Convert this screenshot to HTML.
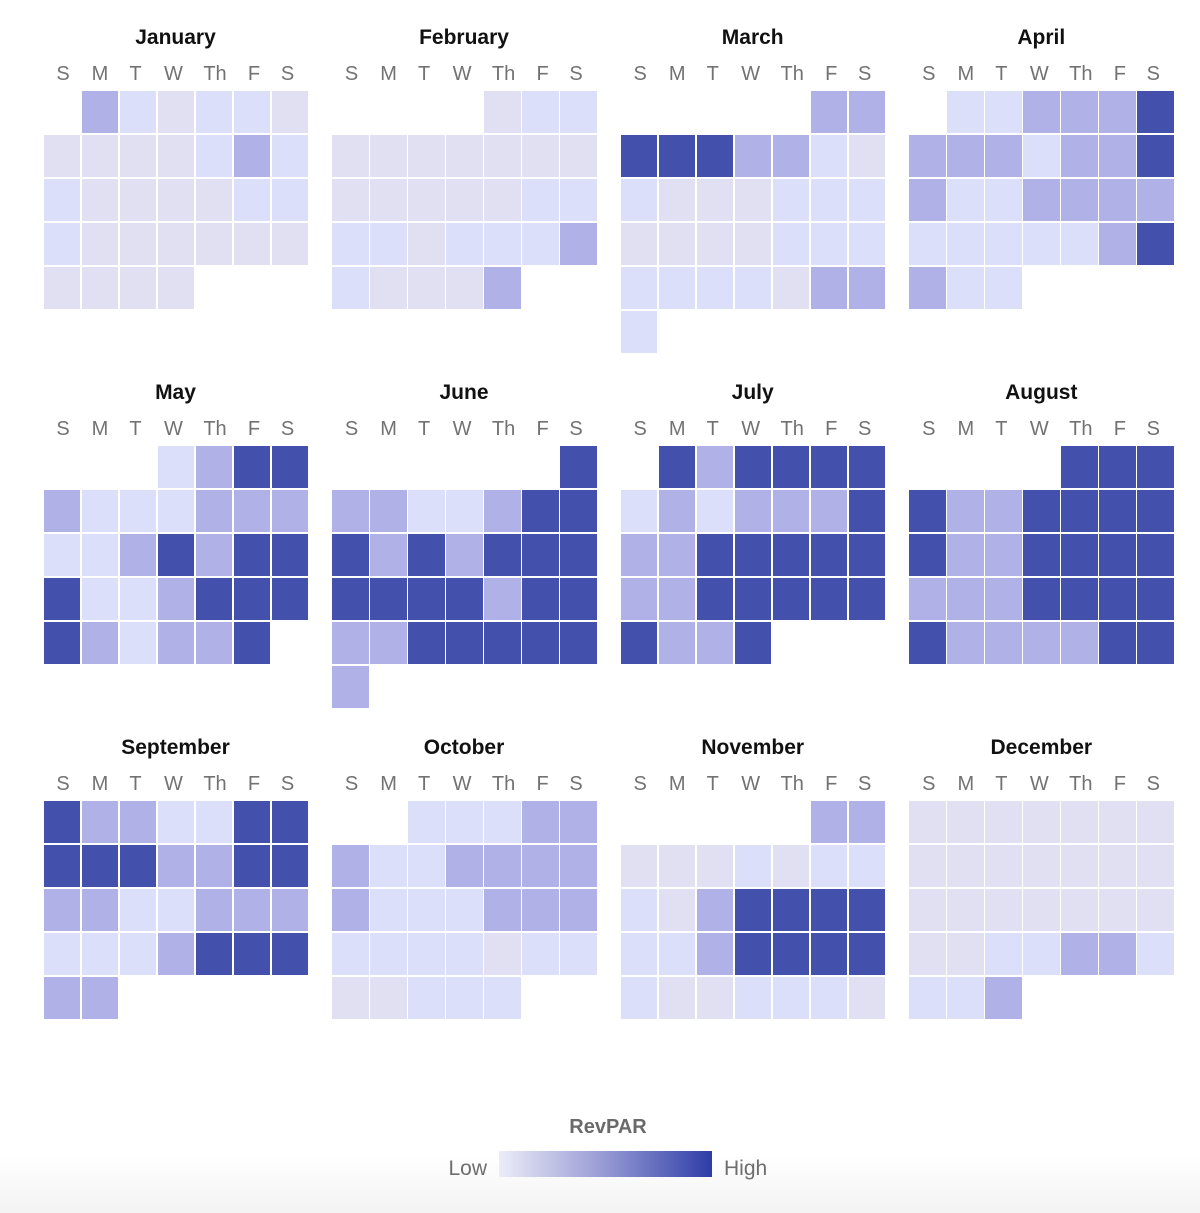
<!DOCTYPE html>
<html><head><meta charset="utf-8">
<style>
html,body{margin:0;padding:0;background:#fff;}
body{width:1200px;height:1213px;position:relative;overflow:hidden;font-family:"Liberation Sans",sans-serif;}
.bg{position:absolute;left:0;top:1155px;width:1200px;height:58px;background:linear-gradient(#ffffff,#f3f3f3);}
.mo{position:absolute;display:grid;grid-template-columns:repeat(7,36.5px);column-gap:1.5px;grid-auto-rows:42px;row-gap:2px;}
.mo i{display:block;}
.g{background:#e0e0f2;}
.l{background:#dcdff9;}
.m{background:#b0b2e7;}
.d{background:#4350ac;}
.e{background:transparent;}
svg{position:absolute;left:0;top:0;}
.t{font:bold 21px "Liberation Sans",sans-serif;fill:#111;text-anchor:middle;}
.w{font:20px "Liberation Sans",sans-serif;fill:#727272;text-anchor:middle;}
</style></head><body>
<div class="bg"></div>

<!-- Row 1 -->
<div class="mo" style="left:43.5px;top:91px">
<i class="e"></i><i class="m"></i><i class="l"></i><i class="g"></i><i class="l"></i><i class="l"></i><i class="g"></i>
<i class="g"></i><i class="g"></i><i class="g"></i><i class="g"></i><i class="l"></i><i class="m"></i><i class="l"></i>
<i class="l"></i><i class="g"></i><i class="g"></i><i class="g"></i><i class="g"></i><i class="l"></i><i class="l"></i>
<i class="l"></i><i class="g"></i><i class="g"></i><i class="g"></i><i class="g"></i><i class="g"></i><i class="g"></i>
<i class="g"></i><i class="g"></i><i class="g"></i><i class="g"></i>
</div>
<div class="mo" style="left:332.1px;top:91px">
<i class="e"></i><i class="e"></i><i class="e"></i><i class="e"></i><i class="g"></i><i class="l"></i><i class="l"></i>
<i class="g"></i><i class="g"></i><i class="g"></i><i class="g"></i><i class="g"></i><i class="g"></i><i class="g"></i>
<i class="g"></i><i class="g"></i><i class="g"></i><i class="g"></i><i class="g"></i><i class="l"></i><i class="l"></i>
<i class="l"></i><i class="l"></i><i class="g"></i><i class="l"></i><i class="l"></i><i class="l"></i><i class="m"></i>
<i class="l"></i><i class="g"></i><i class="g"></i><i class="g"></i><i class="m"></i>
</div>
<div class="mo" style="left:620.7px;top:91px">
<i class="e"></i><i class="e"></i><i class="e"></i><i class="e"></i><i class="e"></i><i class="m"></i><i class="m"></i>
<i class="d"></i><i class="d"></i><i class="d"></i><i class="m"></i><i class="m"></i><i class="l"></i><i class="g"></i>
<i class="l"></i><i class="g"></i><i class="g"></i><i class="g"></i><i class="l"></i><i class="l"></i><i class="l"></i>
<i class="g"></i><i class="g"></i><i class="g"></i><i class="g"></i><i class="l"></i><i class="l"></i><i class="l"></i>
<i class="l"></i><i class="l"></i><i class="l"></i><i class="l"></i><i class="g"></i><i class="m"></i><i class="m"></i>
<i class="l"></i>
</div>
<div class="mo" style="left:909.3px;top:91px">
<i class="e"></i><i class="l"></i><i class="l"></i><i class="m"></i><i class="m"></i><i class="m"></i><i class="d"></i>
<i class="m"></i><i class="m"></i><i class="m"></i><i class="l"></i><i class="m"></i><i class="m"></i><i class="d"></i>
<i class="m"></i><i class="l"></i><i class="l"></i><i class="m"></i><i class="m"></i><i class="m"></i><i class="m"></i>
<i class="l"></i><i class="l"></i><i class="l"></i><i class="l"></i><i class="l"></i><i class="m"></i><i class="d"></i>
<i class="m"></i><i class="l"></i><i class="l"></i>
</div>

<!-- Row 2 -->
<div class="mo" style="left:43.5px;top:446px">
<i class="e"></i><i class="e"></i><i class="e"></i><i class="l"></i><i class="m"></i><i class="d"></i><i class="d"></i>
<i class="m"></i><i class="l"></i><i class="l"></i><i class="l"></i><i class="m"></i><i class="m"></i><i class="m"></i>
<i class="l"></i><i class="l"></i><i class="m"></i><i class="d"></i><i class="m"></i><i class="d"></i><i class="d"></i>
<i class="d"></i><i class="l"></i><i class="l"></i><i class="m"></i><i class="d"></i><i class="d"></i><i class="d"></i>
<i class="d"></i><i class="m"></i><i class="l"></i><i class="m"></i><i class="m"></i><i class="d"></i>
</div>
<div class="mo" style="left:332.1px;top:446px">
<i class="e"></i><i class="e"></i><i class="e"></i><i class="e"></i><i class="e"></i><i class="e"></i><i class="d"></i>
<i class="m"></i><i class="m"></i><i class="l"></i><i class="l"></i><i class="m"></i><i class="d"></i><i class="d"></i>
<i class="d"></i><i class="m"></i><i class="d"></i><i class="m"></i><i class="d"></i><i class="d"></i><i class="d"></i>
<i class="d"></i><i class="d"></i><i class="d"></i><i class="d"></i><i class="m"></i><i class="d"></i><i class="d"></i>
<i class="m"></i><i class="m"></i><i class="d"></i><i class="d"></i><i class="d"></i><i class="d"></i><i class="d"></i>
<i class="m"></i>
</div>
<div class="mo" style="left:620.7px;top:446px">
<i class="e"></i><i class="d"></i><i class="m"></i><i class="d"></i><i class="d"></i><i class="d"></i><i class="d"></i>
<i class="l"></i><i class="m"></i><i class="l"></i><i class="m"></i><i class="m"></i><i class="m"></i><i class="d"></i>
<i class="m"></i><i class="m"></i><i class="d"></i><i class="d"></i><i class="d"></i><i class="d"></i><i class="d"></i>
<i class="m"></i><i class="m"></i><i class="d"></i><i class="d"></i><i class="d"></i><i class="d"></i><i class="d"></i>
<i class="d"></i><i class="m"></i><i class="m"></i><i class="d"></i>
</div>
<div class="mo" style="left:909.3px;top:446px">
<i class="e"></i><i class="e"></i><i class="e"></i><i class="e"></i><i class="d"></i><i class="d"></i><i class="d"></i>
<i class="d"></i><i class="m"></i><i class="m"></i><i class="d"></i><i class="d"></i><i class="d"></i><i class="d"></i>
<i class="d"></i><i class="m"></i><i class="m"></i><i class="d"></i><i class="d"></i><i class="d"></i><i class="d"></i>
<i class="m"></i><i class="m"></i><i class="m"></i><i class="d"></i><i class="d"></i><i class="d"></i><i class="d"></i>
<i class="d"></i><i class="m"></i><i class="m"></i><i class="m"></i><i class="m"></i><i class="d"></i><i class="d"></i>
</div>

<!-- Row 3 -->
<div class="mo" style="left:43.5px;top:801px">
<i class="d"></i><i class="m"></i><i class="m"></i><i class="l"></i><i class="l"></i><i class="d"></i><i class="d"></i>
<i class="d"></i><i class="d"></i><i class="d"></i><i class="m"></i><i class="m"></i><i class="d"></i><i class="d"></i>
<i class="m"></i><i class="m"></i><i class="l"></i><i class="l"></i><i class="m"></i><i class="m"></i><i class="m"></i>
<i class="l"></i><i class="l"></i><i class="l"></i><i class="m"></i><i class="d"></i><i class="d"></i><i class="d"></i>
<i class="m"></i><i class="m"></i>
</div>
<div class="mo" style="left:332.1px;top:801px">
<i class="e"></i><i class="e"></i><i class="l"></i><i class="l"></i><i class="l"></i><i class="m"></i><i class="m"></i>
<i class="m"></i><i class="l"></i><i class="l"></i><i class="m"></i><i class="m"></i><i class="m"></i><i class="m"></i>
<i class="m"></i><i class="l"></i><i class="l"></i><i class="l"></i><i class="m"></i><i class="m"></i><i class="m"></i>
<i class="l"></i><i class="l"></i><i class="l"></i><i class="l"></i><i class="g"></i><i class="l"></i><i class="l"></i>
<i class="g"></i><i class="g"></i><i class="l"></i><i class="l"></i><i class="l"></i>
</div>
<div class="mo" style="left:620.7px;top:801px">
<i class="e"></i><i class="e"></i><i class="e"></i><i class="e"></i><i class="e"></i><i class="m"></i><i class="m"></i>
<i class="g"></i><i class="g"></i><i class="g"></i><i class="l"></i><i class="g"></i><i class="l"></i><i class="l"></i>
<i class="l"></i><i class="g"></i><i class="m"></i><i class="d"></i><i class="d"></i><i class="d"></i><i class="d"></i>
<i class="l"></i><i class="l"></i><i class="m"></i><i class="d"></i><i class="d"></i><i class="d"></i><i class="d"></i>
<i class="l"></i><i class="g"></i><i class="g"></i><i class="l"></i><i class="l"></i><i class="l"></i><i class="g"></i>
</div>
<div class="mo" style="left:909.3px;top:801px">
<i class="g"></i><i class="g"></i><i class="g"></i><i class="g"></i><i class="g"></i><i class="g"></i><i class="g"></i>
<i class="g"></i><i class="g"></i><i class="g"></i><i class="g"></i><i class="g"></i><i class="g"></i><i class="g"></i>
<i class="g"></i><i class="g"></i><i class="g"></i><i class="g"></i><i class="g"></i><i class="g"></i><i class="g"></i>
<i class="g"></i><i class="g"></i><i class="l"></i><i class="l"></i><i class="m"></i><i class="m"></i><i class="l"></i>
<i class="l"></i><i class="l"></i><i class="m"></i>
</div>

<svg width="1200" height="1213" viewBox="0 0 1200 1213">
<defs>
<linearGradient id="lg" x1="0" y1="0" x2="1" y2="0">
<stop offset="0" stop-color="#ececf8"/>
<stop offset="0.5" stop-color="#9599d3"/>
<stop offset="1" stop-color="#2e3da7"/>
</linearGradient>
</defs>
<!-- titles -->
<text class="t" x="175.5" y="44">January</text>
<text class="t" x="464" y="44">February</text>
<text class="t" x="752.7" y="44">March</text>
<text class="t" x="1041.3" y="44">April</text>
<text class="t" x="175.5" y="399">May</text>
<text class="t" x="464" y="399">June</text>
<text class="t" x="752.7" y="399">July</text>
<text class="t" x="1041.3" y="399">August</text>
<text class="t" x="175.5" y="754">September</text>
<text class="t" x="464" y="754">October</text>
<text class="t" x="752.7" y="754">November</text>
<text class="t" x="1041.3" y="754">December</text>

<!-- day labels row 1 -->
<g transform="translate(43.5,80)"><text class="w" x="19.5">S</text><text class="w" x="56.5">M</text><text class="w" x="92">T</text><text class="w" x="130">W</text><text class="w" x="171.5">Th</text><text class="w" x="210.5">F</text><text class="w" x="244">S</text></g>
<g transform="translate(332.1,80)"><text class="w" x="19.5">S</text><text class="w" x="56.5">M</text><text class="w" x="92">T</text><text class="w" x="130">W</text><text class="w" x="171.5">Th</text><text class="w" x="210.5">F</text><text class="w" x="244">S</text></g>
<g transform="translate(620.7,80)"><text class="w" x="19.5">S</text><text class="w" x="56.5">M</text><text class="w" x="92">T</text><text class="w" x="130">W</text><text class="w" x="171.5">Th</text><text class="w" x="210.5">F</text><text class="w" x="244">S</text></g>
<g transform="translate(909.3,80)"><text class="w" x="19.5">S</text><text class="w" x="56.5">M</text><text class="w" x="92">T</text><text class="w" x="130">W</text><text class="w" x="171.5">Th</text><text class="w" x="210.5">F</text><text class="w" x="244">S</text></g>
<!-- row 2 -->
<g transform="translate(43.5,435)"><text class="w" x="19.5">S</text><text class="w" x="56.5">M</text><text class="w" x="92">T</text><text class="w" x="130">W</text><text class="w" x="171.5">Th</text><text class="w" x="210.5">F</text><text class="w" x="244">S</text></g>
<g transform="translate(332.1,435)"><text class="w" x="19.5">S</text><text class="w" x="56.5">M</text><text class="w" x="92">T</text><text class="w" x="130">W</text><text class="w" x="171.5">Th</text><text class="w" x="210.5">F</text><text class="w" x="244">S</text></g>
<g transform="translate(620.7,435)"><text class="w" x="19.5">S</text><text class="w" x="56.5">M</text><text class="w" x="92">T</text><text class="w" x="130">W</text><text class="w" x="171.5">Th</text><text class="w" x="210.5">F</text><text class="w" x="244">S</text></g>
<g transform="translate(909.3,435)"><text class="w" x="19.5">S</text><text class="w" x="56.5">M</text><text class="w" x="92">T</text><text class="w" x="130">W</text><text class="w" x="171.5">Th</text><text class="w" x="210.5">F</text><text class="w" x="244">S</text></g>
<!-- row 3 -->
<g transform="translate(43.5,790)"><text class="w" x="19.5">S</text><text class="w" x="56.5">M</text><text class="w" x="92">T</text><text class="w" x="130">W</text><text class="w" x="171.5">Th</text><text class="w" x="210.5">F</text><text class="w" x="244">S</text></g>
<g transform="translate(332.1,790)"><text class="w" x="19.5">S</text><text class="w" x="56.5">M</text><text class="w" x="92">T</text><text class="w" x="130">W</text><text class="w" x="171.5">Th</text><text class="w" x="210.5">F</text><text class="w" x="244">S</text></g>
<g transform="translate(620.7,790)"><text class="w" x="19.5">S</text><text class="w" x="56.5">M</text><text class="w" x="92">T</text><text class="w" x="130">W</text><text class="w" x="171.5">Th</text><text class="w" x="210.5">F</text><text class="w" x="244">S</text></g>
<g transform="translate(909.3,790)"><text class="w" x="19.5">S</text><text class="w" x="56.5">M</text><text class="w" x="92">T</text><text class="w" x="130">W</text><text class="w" x="171.5">Th</text><text class="w" x="210.5">F</text><text class="w" x="244">S</text></g>

<!-- legend -->
<text x="608" y="1133" style="font:bold 20px 'Liberation Sans',sans-serif;fill:#6a6a6a;text-anchor:middle">RevPAR</text>
<rect x="499" y="1151" width="213" height="26" fill="url(#lg)"/>
<text x="487" y="1175" style="font:21px 'Liberation Sans',sans-serif;fill:#6e6e6e;text-anchor:end">Low</text>
<text x="724" y="1175" style="font:21px 'Liberation Sans',sans-serif;fill:#6e6e6e;text-anchor:start">High</text>
</svg>
</body></html>
